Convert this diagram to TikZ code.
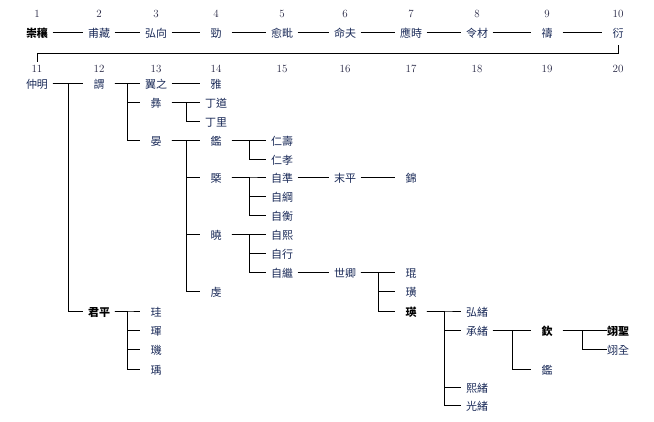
\documentclass[tikz,border=0pt]{standalone}
\usepackage{fontspec}
\newfontfamily\cjk{Noto Sans CJK TC}
\definecolor{namecol}{HTML}{1A2A58}
\definecolor{numcol}{HTML}{222240}

\begin{document}
\begin{tikzpicture}[x=1pt,y=-1pt,
    person/.style={minimum width=31pt,inner sep=0pt,text height=10.5pt,text depth=0pt,
                   font=\cjk\fontsize{11}{12}\selectfont,text=namecol},
    heir/.style={person,font=\cjk\bfseries\fontsize{11}{12}\selectfont,text=black},
    lastcol/.style={minimum width=22pt},
    gen/.style={font=\fontsize{11}{13}\selectfont,text=numcol},
    link/.style={line width=0.8pt}]
    \useasboundingbox (0,0) rectangle (654,421);

    % Generation numbers
    \foreach \n/\x in {1/37,2/99,3/156,4/216,5/282,6/345,7/411,8/477,9/547,10/618}
        \node[gen] (g\n) at (\x,14) {\n};
    \foreach \n/\x in {11/37,12/99,13/156,14/216,15/282,16/345,17/411,18/477,19/547,20/618}
        \node[gen] (g\n) at (\x,69) {\n};

    % Generations 1--10, one line
    \node[heir] (chongrang) at (37,32.5) {崇穰};
    \node[person] (fuzang) at (99,32.5) {甫藏};
    \node[person] (hongxiang) at (156,32.5) {弘向};
    \node[person] (jing) at (216,32.5) {勁};
    \node[person] (yupi) at (282,32.5) {愈毗};
    \node[person] (mingfu) at (345,32.5) {命夫};
    \node[person] (yingshi) at (411,32.5) {應時};
    \node[person] (lingcai) at (477,32.5) {令材};
    \node[person] (dao) at (547,32.5) {禱};
    \node[person] (yan10) at (618,32.5) {衍};

    \foreach \a/\b in {chongrang/fuzang,fuzang/hongxiang,hongxiang/jing,jing/yupi,
                       yupi/mingfu,mingfu/yingshi,yingshi/lingcai,lingcai/dao,dao/yan10}
        \draw[link] (\a.east) -- (\b.west);

    % Carried over to the second row
    \draw[link] ([yshift=-7.25pt]yan10.south) -- ++(0,8) -| (g11.north);

    % Generations 11--20
    \node[person] (zhongming) at (37,83.5) {仲明};
    \node[person] (wei) at (99,83.5) {謂};
    \node[heir] (junping) at (99,311) {君平};

    \node[person] (yizhi) at (156,83.5) {翼之};
    \node[person] (yi) at (156,102.5) {彝};
    \node[person] (yan13) at (156,140.5) {晏};
    \node[person] (gui) at (156,311) {珪};
    \node[person] (hun) at (156,330.5) {琿};
    \node[person] (ji) at (156,349.5) {璣};
    \node[person] (yu) at (156,369) {瑀};

    \node[person] (ya) at (216,83.5) {雅};
    \node[person] (dingdao) at (216,102.5) {丁道};
    \node[person] (dingli) at (216,121.5) {丁里};
    \node[person] (jian14) at (216,140.5) {鑑};
    \node[person] (gai) at (216,177) {槩};
    \node[person] (xiao) at (216,234.5) {曉};
    \node[person] (qian) at (216,291.5) {虔};

    \node[person] (renshou) at (282,140.5) {仁壽};
    \node[person] (renxiao) at (282,159) {仁孝};
    \node[person] (zizhun) at (282,177) {自準};
    \node[person] (zigang) at (282,196) {自綱};
    \node[person] (ziheng) at (282,215) {自衡};
    \node[person] (zixi) at (282,234.5) {自熙};
    \node[person] (zixing) at (282,253.5) {自行};
    \node[person] (ziji) at (282,272.5) {自繼};

    \node[person] (moping) at (345,177) {末平};
    \node[person] (shiqing) at (345,272.5) {世卿};

    \node[person] (jin) at (411,177) {錦};
    \node[person] (kun) at (411,272.5) {琨};
    \node[person] (huang) at (411,291.5) {璜};
    \node[heir] (ying) at (411,311) {瑛};

    \node[person] (hongxu) at (477,311) {弘緒};
    \node[person] (chengxu) at (477,330.5) {承緒};
    \node[person] (xixu) at (477,387.5) {熙緒};
    \node[person] (guangxu) at (477,405) {光緒};

    \node[heir] (qin) at (547,330.5) {欽};
    \node[person] (jian19) at (547,369) {鑑};

    \node[heir,lastcol] (yisheng) at (618,330.5) {翊聖};
    \node[person,lastcol] (yiquan) at (618,349.5) {翊全};

    % Single lines
    \draw[link] (yizhi.east) -- (ya.west);
    \draw[link] (zizhun.east) -- (moping.west);
    \draw[link] (moping.east) -- (jin.west);
    \draw[link] (ziji.east) -- (shiqing.west);

    % Brackets
    \foreach \c in {wei,junping} \draw[link] (zhongming.east) -- ++(15.5,0) |- (\c.west);
    \foreach \c in {yizhi,yi,yan13} \draw[link] (wei.east) -- ++(13,0) |- (\c.west);
    \foreach \c in {gui,hun,ji,yu} \draw[link] (junping.east) -- ++(13,0) |- (\c.west);
    \foreach \c in {dingdao,dingli} \draw[link] (yi.east) -- ++(14.5,0) |- (\c.west);
    \foreach \c in {jian14,gai,xiao,qian} \draw[link] (yan13.east) -- ++(14.5,0) |- (\c.west);
    \foreach \c in {renshou,renxiao} \draw[link] (jian14.east) -- ++(17.5,0) |- (\c.west);
    \foreach \c in {zizhun,zigang,ziheng} \draw[link] (gai.east) -- ++(17.5,0) |- (\c.west);
    \foreach \c in {zixi,zixing,ziji} \draw[link] (xiao.east) -- ++(17.5,0) |- (\c.west);
    \foreach \c in {kun,huang,ying} \draw[link] (shiqing.east) -- ++(17.5,0) |- (\c.west);
    \foreach \c in {hongxu,chengxu,xixu,guangxu} \draw[link] (ying.east) -- ++(17.5,0) |- (\c.west);
    \foreach \c in {qin,jian19} \draw[link] (chengxu.east) -- ++(19.5,0) |- (\c.west);
    \foreach \c in {yisheng,yiquan} \draw[link] (qin.east) -- ++(20,0) |- (\c.west);
\end{tikzpicture}
\end{document}
